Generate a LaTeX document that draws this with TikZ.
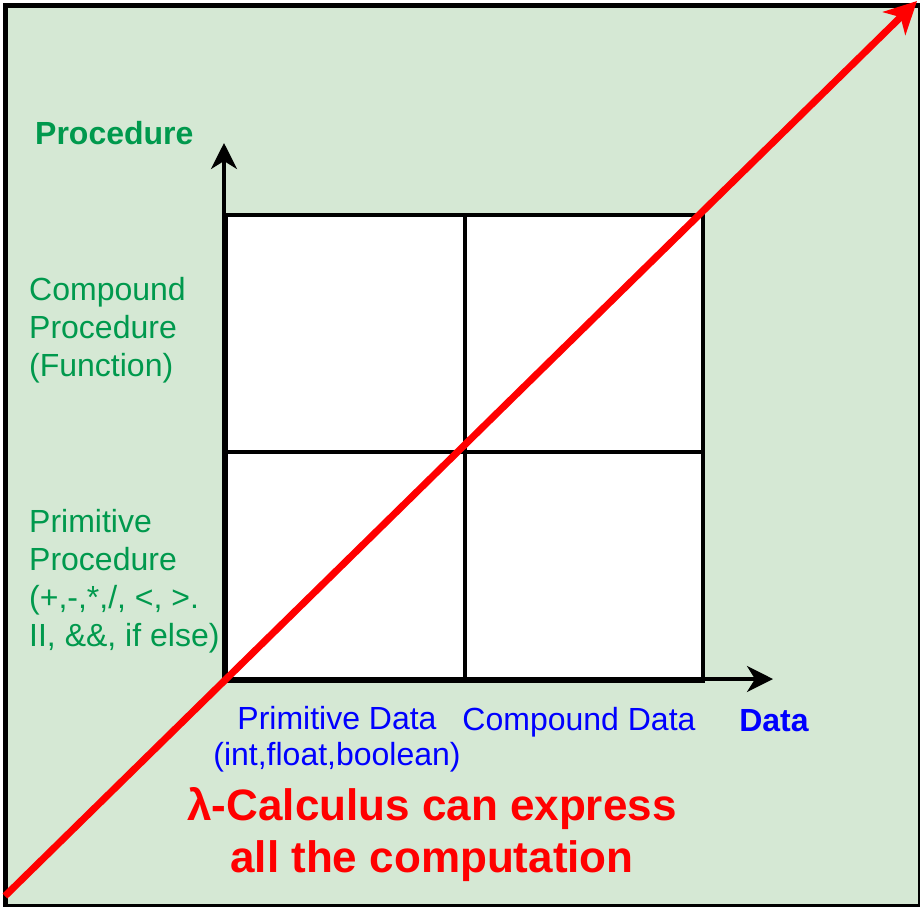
\documentclass[tikz,border=0pt]{standalone}
\usepackage{fontspec}
\setmainfont{Liberation Sans}
\usetikzlibrary{arrows.meta}
\definecolor{bgg}{HTML}{D5E8D4}
\definecolor{tgreen}{HTML}{00994D}
\definecolor{tblue}{HTML}{0000FF}
\definecolor{tred}{HTML}{FF0000}
\begin{document}
\begin{tikzpicture}[x=1pt,y=-1pt,
  cell/.style={draw=black,line width=3.5pt,fill=white,inner sep=0pt,anchor=north west},
  axis/.style={draw=black,line width=3.5pt,-{Stealth[length=26pt,width=26pt,inset=8pt]}},
  glabel/.style={text=tgreen,font=\fontsize{32}{38}\selectfont,align=left,anchor=west,inner sep=0pt},
  blabel/.style={text=tblue,font=\fontsize{32}{36}\selectfont,align=center,inner sep=0pt},
  rlabel/.style={text=tred,font=\fontsize{44}{52}\selectfont\bfseries,align=center,inner sep=0pt}]
\useasboundingbox (0,0) rectangle (920,906);
\node[draw=black,line width=5pt,fill=bgg,minimum width=915pt,minimum height=901pt,inner sep=0pt,anchor=north west] (frame) at (2.5,2.5) {};
% grid cells
\node[cell,minimum width=239pt,minimum height=237pt] (c1) at (224,213) {};
\node[cell,minimum width=238pt,minimum height=237pt] (c2) at (463,213) {};
\node[cell,minimum width=239pt,minimum height=229pt] (c3) at (224,450) {};
\node[cell,minimum width=238pt,minimum height=229pt] (c4) at (463,450) {};
% axes
\coordinate (o) at (224,679);
\coordinate (ytip) at (224,143);
\coordinate (xtip) at (773,679);
\draw[axis] (o) -- (ytip);
\draw[axis] (o) -- (xtip);
% red diagonal
\coordinate (rs) at (5,896);
\coordinate (re) at (917,1);
\draw[draw=tred,line width=7pt,-{Stealth[length=32pt,width=32pt,inset=9pt]}] (rs) -- (re);
% labels
\node[text=tgreen,font=\fontsize{32}{38}\selectfont\bfseries,anchor=west,inner sep=0pt] (proc) at (35,133) {Procedure};
\node[glabel] (cp) at (29,330) {Compound\\Procedure\\(Function)};
\node[glabel] (pp) at (29,581) {Primitive\\Procedure\\(+,-,*,/, <, >.\\II, \&\&, if else)};
\node[blabel] (pd) at (337,739) {Primitive Data\\(int,float,boolean)};
\node[blabel] (cd) at (579,722) {Compound Data};
\node[text=tblue,font=\fontsize{32}{38}\selectfont\bfseries,inner sep=0pt] (data) at (774,721) {Data};
\node[rlabel] (lam) at (432,835) {λ-Calculus can express\\all the computation};
\end{tikzpicture}
\end{document}
